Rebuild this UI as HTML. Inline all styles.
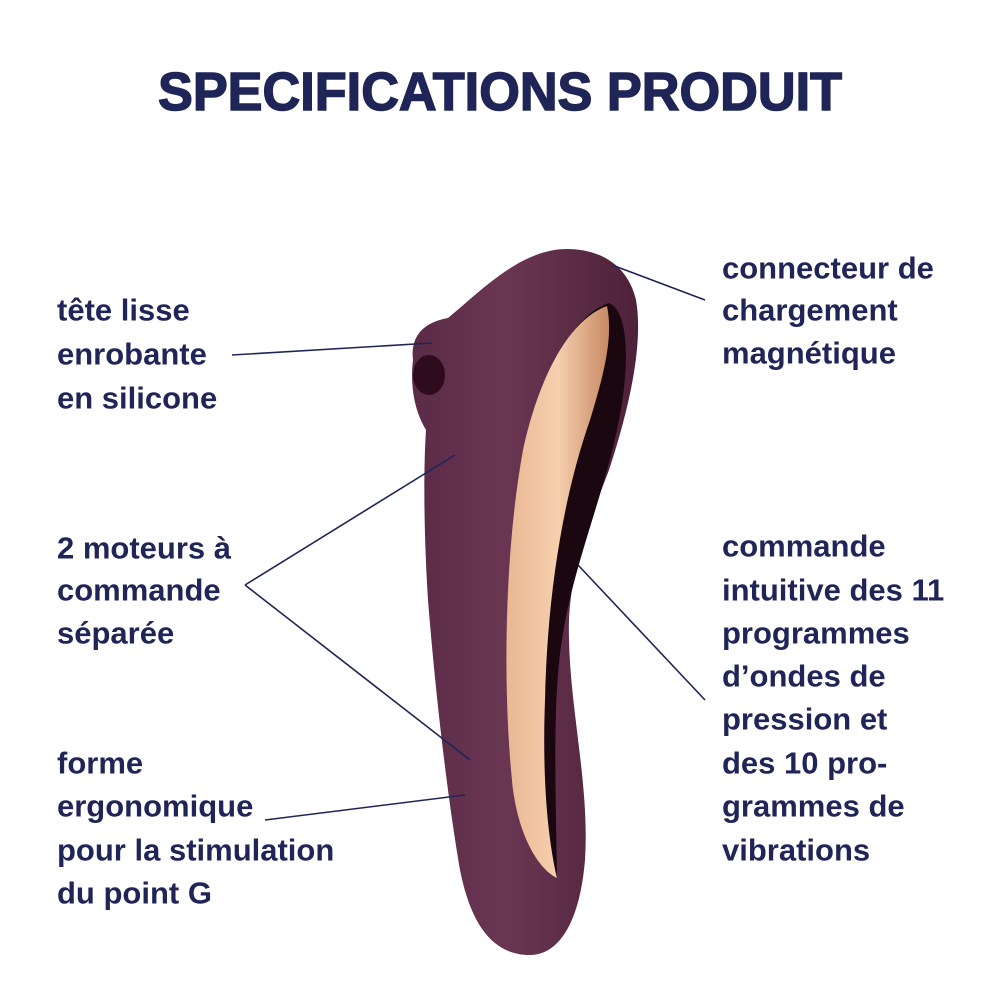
<!DOCTYPE html>
<html><head><meta charset="utf-8"><style>
html,body{margin:0;padding:0;background:#fff;}
svg{display:block;}
text{font-family:"Liberation Sans",sans-serif;fill:#1f2557;}
</style></head><body>
<svg width="1000" height="1000" viewBox="0 0 1000 1000" xmlns="http://www.w3.org/2000/svg">
<defs>
<linearGradient id="gold" x1="0" y1="0" x2="1" y2="0">
<stop offset="0" stop-color="#e9b793"/>
<stop offset="0.5" stop-color="#f6cfae"/>
<stop offset="1" stop-color="#c68a64"/>
</linearGradient>
<linearGradient id="body" x1="0" y1="0" x2="1" y2="0">
<stop offset="0" stop-color="#5a2a46"/>
<stop offset="0.4" stop-color="#6a3753"/>
<stop offset="1" stop-color="#4e2139"/>
</linearGradient>
</defs>
<text x="500" y="110" text-anchor="middle" font-size="54" font-weight="bold" stroke="#1f2557" stroke-width="1.5" textLength="684" lengthAdjust="spacingAndGlyphs">SPECIFICATIONS PRODUIT</text>

<path d="M413,360 C410,335 425,322 448,318 C480,292 520,249 567,249 C600,249 628,265 636,300 C643,340 632,400 609,470 C590,520 572,560 569,620 C567,700 590,780 585,860 C580,920 560,955 530,955 C490,955 470,920 460,870 C448,800 436,700 428,600 C423,520 424,460 426,430 C414,410 410,385 413,360 Z" fill="url(#body)"/>
<ellipse cx="429" cy="375" rx="16" ry="20" fill="#2e0c1e"/>
<path d="M609,303 C570,316 540,380 525,450 C505,560 505,700 515,790 C522,840 540,870 557,878 C556,800 552,700 562,640 C572,570 602,500 617,430 C630,370 630,312 609,303 Z" fill="#1a0710"/>
<path d="M607,306 C568,320 538,380 523,450 C503,560 503,700 513,790 C520,840 540,870 557,878 C548,840 542,780 545,700 C547,600 562,500 590,420 C602,380 614,340 607,306 Z" fill="url(#gold)"/>

<g stroke="#1f2557" stroke-width="1.6" fill="none">
<line x1="232" y1="355" x2="432" y2="343"/>
<line x1="612" y1="265" x2="705" y2="300"/>
<line x1="245" y1="585" x2="455" y2="455"/>
<line x1="245" y1="585" x2="470" y2="760"/>
<line x1="265" y1="820" x2="465" y2="795"/>
<line x1="578" y1="565" x2="705" y2="700"/>
</g>

<g font-size="31" font-weight="bold" dominant-baseline="central">
<text x="57" y="310">tête lisse</text>
<text x="57" y="354">enrobante</text>
<text x="57" y="398">en silicone</text>
<text x="57" y="548">2 moteurs à</text>
<text x="57" y="590">commande</text>
<text x="57" y="633">séparée</text>
<text x="57" y="763">forme</text>
<text x="57" y="806">ergonomique</text>
<text x="57" y="850">pour la stimulation</text>
<text x="57" y="893">du point G</text>
<text x="722" y="268">connecteur de</text>
<text x="722" y="310">chargement</text>
<text x="722" y="353">magnétique</text>
<text x="722" y="546">commande</text>
<text x="722" y="590">intuitive des 11</text>
<text x="722" y="633">programmes</text>
<text x="722" y="676">d’ondes de</text>
<text x="722" y="719">pression et</text>
<text x="722" y="763">des 10 pro-</text>
<text x="722" y="806">grammes de</text>
<text x="722" y="850">vibrations</text>
</g>
</svg>
</body></html>
